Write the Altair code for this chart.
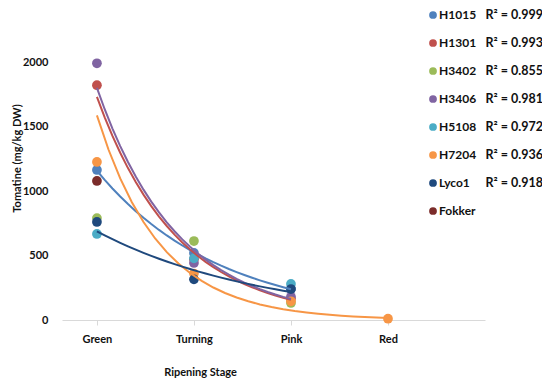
import altair as alt
import pandas as pd

series = ["H1015", "H1301", "H3402", "H3406", "H5108", "H7204", "Lyco1", "Fokker"]
colors = ["#4F81BD", "#C0504D", "#9BBB59", "#8064A2", "#4BACC6", "#F79646", "#1F497D", "#7B2C2A"]
r2_labels = ["R² = 0.999", "R² = 0.993", "R² = 0.855", "R² = 0.981", "R² = 0.972", "R² = 0.936", "R² = 0.918", ""]
trend_series = ["H1015", "H1301", "H3406", "H7204", "Lyco1"]
stages = ["Green", "Turning", "Pink", "Red"]

H1015 = [1163, 520, 240]
H1301 = [1820, 470, 165]
H3402 = [790, 612, 132]
H3406 = [1990, 442, 180]
H5108 = [667, 478, 280]
H7204 = [1225, 360, 145, 10]
Lyco1 = [760, 315, 240]
Fokker = [1078]

values = [H1015, H1301, H3402, H3406, H5108, H7204, Lyco1, Fokker]

rows = []
for s, vals in zip(series, values):
    for i, v in enumerate(vals):
        rows.append({"series": s, "x": i + 1, "stage": stages[i], "value": v,
                     "idx": series.index(s)})
df = pd.DataFrame(rows)
leg = pd.DataFrame({"series": series, "r2": r2_labels})

FONT = "Lato"
color = alt.Color("series:N", scale=alt.Scale(domain=series, range=colors), legend=None)

xaxis = alt.Axis(values=[1, 2, 3, 4], labelExpr="['','Green','Turning','Pink','Red'][datum.value]",
                 title="Ripening Stage", titleX=138, titleY=52, titleBaseline="middle",
                 titleFont=FONT, titleFontSize=11, titleFontWeight="bold", titleColor="#111",
                 labelFont=FONT, labelFontSize=11, labelFontWeight="bold", labelColor="#111",
                 labelPadding=8, domainColor="#D9D9D9", tickColor="#D9D9D9", tickSize=5, grid=False)
yaxis = alt.Axis(values=[0, 500, 1000, 1500, 2000], format="d", title="Tomatine (mg/kg DW)",
                 titleX=-40, titleY=96, titleAngle=-90, titleBaseline="bottom",
                 titleFont=FONT, titleFontSize=11, titleFontWeight="bold", titleColor="#111",
                 labelFont=FONT, labelFontSize=11, labelFontWeight="bold", labelColor="#111",
                 labelPadding=14, domain=False, ticks=False, grid=False)

xscale = alt.Scale(domain=[0.64, 5], nice=False, zero=False)
yscale = alt.Scale(domain=[0, 2000], nice=False)

points = alt.Chart(df).mark_circle(size=95, opacity=1).encode(
    x=alt.X("x:Q", scale=xscale, axis=xaxis),
    y=alt.Y("value:Q", scale=yscale, axis=yaxis),
    color=color,
    order=alt.Order("idx:Q"),
)

trend = alt.Chart(df).transform_filter(
    alt.FieldOneOfPredicate(field="series", oneOf=trend_series)
).transform_calculate(ly="log(datum.value)").transform_regression(
    "x", "ly", method="poly", order=1, groupby=["series"]
).transform_calculate(fit="exp(datum.ly)").mark_line(strokeWidth=2).encode(
    x=alt.X("x:Q", scale=xscale, axis=xaxis),
    y=alt.Y("fit:Q", scale=yscale, axis=yaxis),
    color=color,
)

main = alt.layer(points, trend)

ly = alt.Y("series:N", scale=alt.Scale(type="point", domain=series, range=[-47, 149], padding=0), axis=None)
leg_pts = alt.Chart(leg).mark_circle(size=60, opacity=1).encode(x=alt.value(371), y=ly, color=color)
leg_names = alt.Chart(leg).mark_text(align="left", baseline="middle", font=FONT, fontSize=12,
                                     fontWeight="bold", color="#111").encode(
    x=alt.value(377), y=ly, text="series:N")
leg_r2 = alt.Chart(leg).mark_text(align="right", baseline="middle", font=FONT, fontSize=12.5,
                                  fontWeight="bold", color="#111").encode(
    x=alt.value(481), y=ly, text="r2:N")
legend = alt.layer(leg_pts, leg_names, leg_r2)

chart = alt.layer(main, legend).resolve_scale(y="independent").properties(
    width=423, height=258,
    autosize=alt.AutoSizeParams(type="none"),
    padding={"left": 54, "top": 54, "right": 57, "bottom": 60},
).configure_view(stroke=None)

chart.save("out.html", embed_options={"renderer": "svg", "actions": False})
